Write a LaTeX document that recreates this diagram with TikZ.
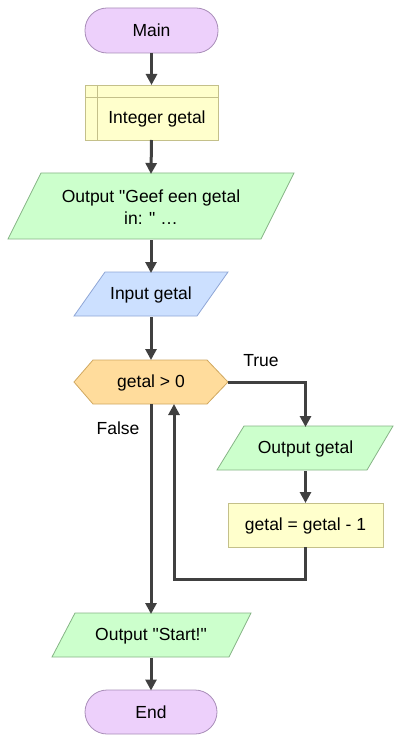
\documentclass[tikz,border=0pt]{standalone}
\usepackage{fontspec}
\newfontfamily\flowfont{Liberation Sans}
\usetikzlibrary{arrows.meta,calc}
\definecolor{termfill}{HTML}{EDD0FB}
\definecolor{termline}{HTML}{A88DB8}
\definecolor{declfill}{HTML}{FFFFCC}
\definecolor{declline}{HTML}{C4C08A}
\definecolor{outfill}{HTML}{CCFFCC}
\definecolor{outline}{HTML}{86B486}
\definecolor{infill}{HTML}{CCE0FF}
\definecolor{inline}{HTML}{8FA6D6}
\definecolor{hexfill}{HTML}{FFDC9C}
\definecolor{hexline}{HTML}{D0A860}
\definecolor{arrowc}{HTML}{404040}
\tikzset{
  lbl/.style={inner sep=0pt, outer sep=0pt, draw=none, align=center, font=\flowfont\fontsize{17.5}{22}\selectfont},
  anchorbox/.style={lbl, shape=rectangle},
  flow/.style={draw=arrowc, line width=3pt, -{Triangle[width=11pt,length=11pt]}},
  termshape/.style={fill=termfill, draw=termline, line width=0.8pt, rounded corners=22pt},
  declshape/.style={fill=declfill, draw=declline, line width=0.8pt},
  outshape/.style={fill=outfill, draw=outline, line width=0.8pt},
  inshape/.style={fill=infill, draw=inline, line width=0.8pt},
  hexshape/.style={fill=hexfill, draw=hexline, line width=0.8pt},
}
\begin{document}
\begin{tikzpicture}[x=1pt,y=-1pt]
\useasboundingbox (0,0) rectangle (402,743);
% shapes
\draw[termshape] (85,8) rectangle (218,53);
\draw[declshape] (85,85) rectangle (218,140);
\draw[declline, line width=0.8pt] (97,85) -- (97,140) (85,97) -- (218,97);
\draw[outshape] (41,173) -- (294,173) -- (261,239) -- (8,239) -- cycle;
\draw[inshape] (105,272) -- (228,272) -- (197,316) -- (74,316) -- cycle;
\draw[hexshape] (74,382) -- (93,360) -- (207,360) -- (228,382) -- (207,404) -- (93,404) -- cycle;
\draw[outshape] (244,426) -- (393,426) -- (367,470) -- (217,470) -- cycle;
\draw[declshape] (228,503) rectangle (383,547);
\draw[outshape] (75,613) -- (251,613) -- (229,657) -- (52,657) -- cycle;
\draw[termshape] (85,690) rectangle (217,734);
% nodes
\node[anchorbox, minimum width=133pt, minimum height=45pt] (main) at (151.5,30.5) {Main};
\node[anchorbox, minimum width=133pt, minimum height=55pt] (decl) at (151.5,112.5) {};
\node[lbl] (decltext) at (157,119) {Integer getal};
\node[anchorbox, minimum width=220pt, minimum height=66pt] (out1) at (151,207) {Output "Geef een getal\\in: " …};
\node[anchorbox, minimum width=123pt, minimum height=44pt] (inp) at (151,295) {Input getal};
\node[anchorbox, minimum width=154pt, minimum height=44pt] (hex) at (151,382) {};
\node[lbl] (hextext) at (151,383) {getal > 0};
\node[anchorbox, minimum width=150pt, minimum height=44pt] (outg) at (305.5,449) {Output getal};
\node[anchorbox, minimum width=155pt, minimum height=44pt] (asg) at (305.5,525) {};
\node[lbl] (asgtext) at (305.5,526) {getal = getal - 1};
\node[anchorbox, minimum width=177pt, minimum height=44pt] (outs) at (151,636) {Output "Start!"};
\node[anchorbox, minimum width=132pt, minimum height=44pt] (endn) at (151,712.5) {End};
\node[lbl] (truelbl) at (261,361) {True};
\node[lbl] (falselbl) at (118,428) {False};
\coordinate (loop) at (174,579);
% connectors
\draw[flow] (main.south) -- (decl.north);
\draw[flow] (decl.south) -- (out1.north);
\draw[flow] (out1.south) -- (inp.north);
\draw[flow] (inp.south) -- (hex.north);
\draw[flow] (hex.east) -| (outg.north);
\draw[flow] (outg.south) -- (asg.north);
\draw[flow] (asg.south) |- (loop) -- (loop |- hex.south);
\draw[flow] (hex.south) -- (outs.north);
\draw[flow] (outs.south) -- (endn.north);
\end{tikzpicture}
\end{document}
